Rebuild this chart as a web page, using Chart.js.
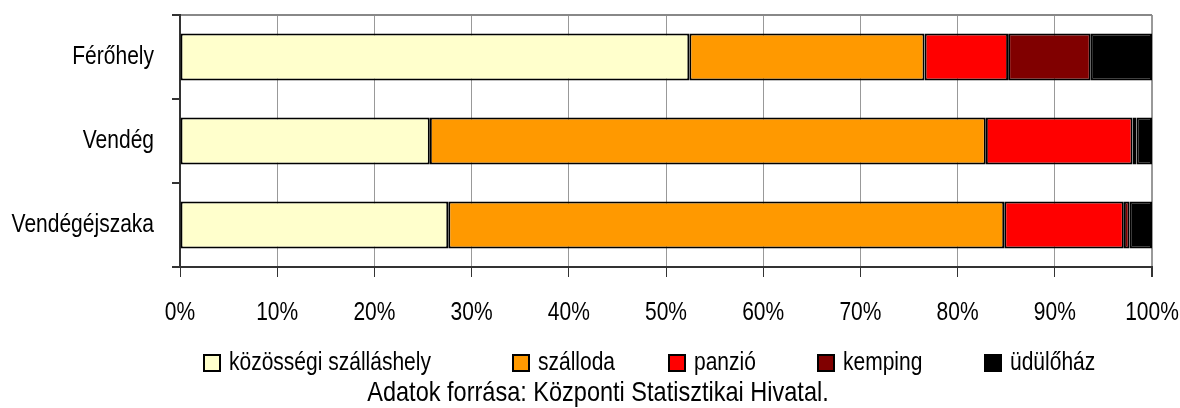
<!DOCTYPE html>
<html>
<head>
<meta charset="utf-8">
<script src="https://cdn.jsdelivr.net/npm/chart.js@4/dist/chart.umd.min.js"></script>
<style>
  html, body { margin: 0; padding: 0; background: #fff; }
  #wrap { width: 1180px; height: 408px; }
</style>
</head>
<body>
<div id="wrap"><canvas id="chart" width="1180" height="408"></canvas></div>
<script>
// adatok
const categories = ['Férőhely', 'Vendég', 'Vendégéjszaka'];
const kozossegi = [52.4, 25.7, 27.6];
const szalloda = [24.2, 57.2, 57.2];
const panzio = [8.6, 15.1, 12.3];
const kemping = [8.5, 0.4, 0.6];
const udulohaz = [6.3, 1.6, 2.3];
const seriesNames = ['közösségi szálláshely', 'szálloda', 'panzió', 'kemping', 'üdülőház'];
const seriesColors = ['#FFFFCC', '#FF9900', '#FF0000', '#800000', '#000000'];
const xTicks = [0, 10, 20, 30, 40, 50, 60, 70, 80, 90, 100];
const sourceText = 'Adatok forrása: Központi Statisztikai Hivatal.';

const FONT = "'Liberation Sans', Arial, sans-serif";
const NARROW = 0.84; // az eredeti betu keskenyebb

// szoveg vizszintes osszenyomasa (narrow betutipus nincs)
const canvas = document.getElementById('chart');
const ctx2d = canvas.getContext('2d');
const origFillText = ctx2d.fillText.bind(ctx2d);
ctx2d.fillText = function (text, x, y) {
  this.save();
  this.translate(x, y);
  this.scale(NARROW, 1);
  origFillText(text, 0, 0);
  this.restore();
};

const allSeries = [kozossegi, szalloda, panzio, kemping, udulohaz];
const datasets = allSeries.map((vals, i) => ({
  label: seriesNames[i],
  data: vals,
  backgroundColor: seriesColors[i],
  borderColor: '#000',
  borderWidth: 2,
  borderSkipped: false,
  barPercentage: 0.56,
  categoryPercentage: 1.0
}));

// legenda + forras szoveg
const legendX = [204, 513, 669, 818, 985];
const bottomText = {
  id: 'bottomText',
  afterDraw(chart) {
    const ctx = chart.ctx;
    ctx.save();
    ctx.font = '25px ' + FONT;
    ctx.textBaseline = 'middle';
    chart.data.datasets.forEach((ds, i) => {
      const bx = legendX[i];
      ctx.fillStyle = ds.backgroundColor;
      ctx.fillRect(bx, 355, 16, 16);
      ctx.strokeStyle = '#000';
      ctx.lineWidth = 2;
      ctx.strokeRect(bx, 355, 16, 16);
      ctx.fillStyle = '#000';
      ctx.textAlign = 'left';
      ctx.fillText(ds.label, bx + 25, 363);
    });
    ctx.font = '28px ' + FONT;
    ctx.textAlign = 'center';
    ctx.fillText(sourceText, 598, 393);
    ctx.restore();
  }
};

new Chart(canvas, {
  type: 'bar',
  data: { labels: categories, datasets: datasets },
  plugins: [bottomText],
  options: {
    indexAxis: 'y',
    responsive: false,
    animation: false,
    layout: { padding: { top: 15, right: 28, bottom: 81, left: 0 } },
    plugins: {
      legend: { display: false },
      tooltip: { enabled: false }
    },
    scales: {
      x: {
        stacked: true,
        min: 0,
        max: 100,
        afterBuildTicks: (axis) => { axis.ticks = xTicks.map(v => ({ value: v })); },
        afterFit: (axis) => { axis.height = 60; axis.paddingLeft = 0; axis.paddingRight = 0; },
        ticks: {
          color: '#000',
          font: { family: FONT, size: 25 },
          padding: 21,
          maxRotation: 0,
          callback: (v) => v + '%'
        },
        grid: {
          color: '#999',
          lineWidth: (c) => (c.index === xTicks.length - 1 ? 2 : 1),
          tickColor: '#333',
          tickLength: 10
        },
        border: { color: '#333', width: 2 }
      },
      y: {
        stacked: true,
        afterFit: (axis) => { axis.width = 180; axis.paddingTop = 0; axis.paddingBottom = 0; },
        ticks: {
          color: '#000',
          font: { family: FONT, size: 25 },
          padding: 18
        },
        grid: {
          offset: true,
          color: (c) => (c.index === 0 ? '#888' : 'rgba(0,0,0,0)'),
          lineWidth: 2,
          tickColor: '#333',
          tickLength: 8
        },
        border: { color: '#333', width: 2 }
      }
    }
  }
});
</script>
</body>
</html>
